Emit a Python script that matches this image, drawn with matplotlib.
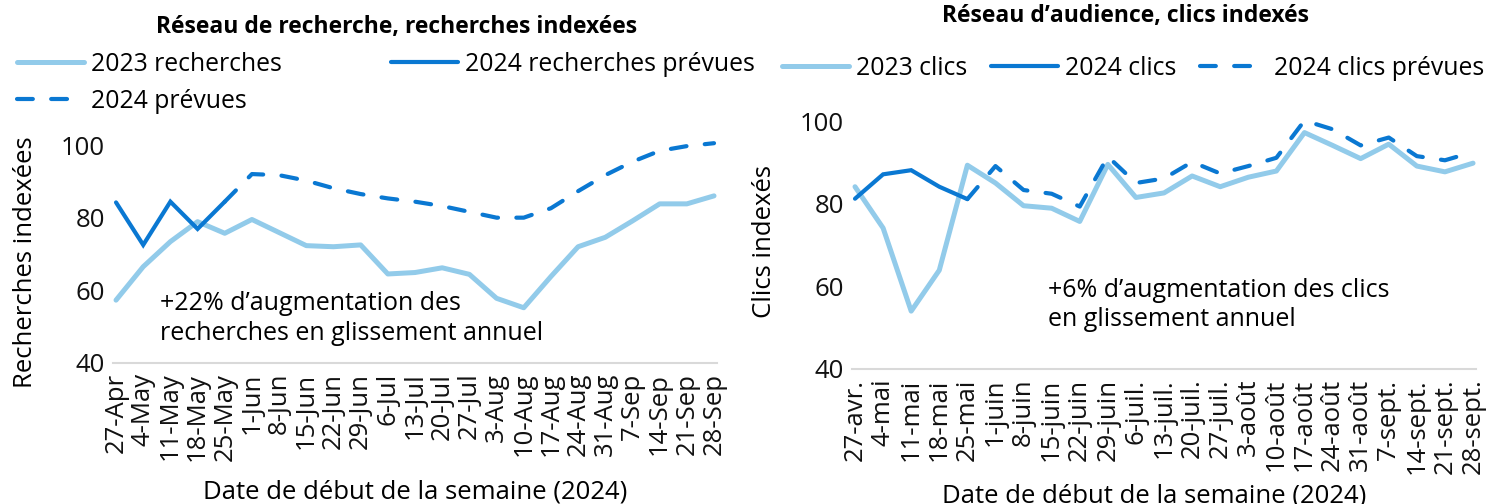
import matplotlib
matplotlib.use("Agg")
import matplotlib.pyplot as plt

plt.rcParams['font.family'] = ['Open Sans', 'DejaVu Sans']

# Données : réseau de recherche
semaines_rech = ['27-Apr', '4-May', '11-May', '18-May', '25-May', '1-Jun', '8-Jun',
                 '15-Jun', '22-Jun', '29-Jun', '6-Jul', '13-Jul', '20-Jul', '27-Jul',
                 '3-Aug', '10-Aug', '17-Aug', '24-Aug', '31-Aug', '7-Sep', '14-Sep',
                 '21-Sep', '28-Sep']
rech_2023 = [57.3, 66.5, 73.4, 78.9, 75.7, 79.5, 75.9, 72.3, 72.0, 72.5, 64.5, 64.9,
             66.2, 64.4, 57.8, 55.2, 63.8, 72.0, 74.6, 79.1, 83.8, 83.8, 86.0]
rech_2024 = [84.2, 72.5, 84.4, 76.9, 84.4] + [None] * 18
rech_prev = [None] * 4 + [84.4, 92.0, 91.7, 90.2, 88.1, 86.5, 85.3, 84.4, 83.2, 81.6,
                          80.0, 80.0, 82.6, 87.3, 91.7, 95.4, 98.4, 99.7, 100.5]

# Données : réseau d'audience
semaines_clics = ['27-avr.', '4-mai', '11-mai', '18-mai', '25-mai', '1-juin', '8-juin',
                  '15-juin', '22-juin', '29-juin', '6-juil.', '13-juil.', '20-juil.',
                  '27-juil.', '3-août', '10-août', '17-août', '24-août', '31-août',
                  '7-sept.', '14-sept.', '21-sept.', '28-sept.']
clics_2023 = [84.1, 74.1, 54.0, 63.9, 89.3, 85.0, 79.5, 78.9, 75.7, 89.5, 81.5, 82.6,
              86.7, 84.1, 86.4, 87.9, 97.2, 94.1, 90.9, 94.4, 89.1, 87.7, 89.8]
clics_2024 = [81.2, 87.1, 88.1, 84.1, 81.1] + [None] * 18
clics_prev = [None] * 4 + [81.1, 89.1, 83.3, 82.4, 79.3, 91.4, 85.0, 86.1, 90.1, 87.3,
                           89.1, 91.1, 100.1, 98.0, 94.1, 96.0, 91.5, 90.5, 92.5]

bleu_clair = '#92CBEA'
bleu_fonce = '#0A78D2'
fs = 18.5
fs_leg = 17.8

fig = plt.figure(figsize=(14.87, 5.04), dpi=100)
ax1 = fig.add_axes([0.0762, 0.2798, 0.4058, 0.4469])
ax2 = fig.add_axes([0.5731, 0.2679, 0.4194, 0.5084])


def tracer(ax, semaines, v2023, v2024, vprev, labels):
    x = list(range(len(semaines)))
    l1, = ax.plot(x, v2023, color=bleu_clair, lw=3.6, solid_capstyle='round', label=labels[0])
    l2, = ax.plot(x, [float('nan') if v is None else v for v in v2024], color=bleu_fonce,
                  lw=3.0, solid_capstyle='round', solid_joinstyle='miter', label=labels[1])
    l3, = ax.plot(x, [float('nan') if v is None else v for v in vprev], color=bleu_fonce,
                  lw=3.0, linestyle=(0, (3.8, 4.4)), dash_capstyle='round', label=labels[2])
    ax.set_xlim(-0.1, len(semaines) - 0.9)
    ax.set_ylim(40, 102)
    ax.set_yticks([40, 60, 80, 100])
    ax.set_xticks(x)
    ax.set_xticklabels(semaines, rotation=90, fontsize=fs)
    ax.tick_params(axis='both', length=0, labelsize=fs, colors='#111111')
    ax.tick_params(axis='x', pad=7)
    ax.tick_params(axis='y', pad=6)
    for s in ['top', 'right', 'left']:
        ax.spines[s].set_visible(False)
    ax.spines['bottom'].set_color('#D9D9D9')
    ax.spines['bottom'].set_linewidth(1.5)
    return l1, l2, l3


a1, a2, a3 = tracer(ax1, semaines_rech, rech_2023, rech_2024, rech_prev,
                    ['2023 recherches', '2024 recherches prévues', '2024 prévues'])
b1, b2, b3 = tracer(ax2, semaines_clics, clics_2023, clics_2024, clics_prev,
                    ['2023 clics', '2024 clics', '2024 clics prévues'])

# Titres
fig.text(0.267, 0.946, 'Réseau de recherche, recherches indexées', ha='center', va='center',
         fontsize=16.5, fontweight='bold')
fig.text(0.757, 0.968, 'Réseau d’audience, clics indexés', ha='center', va='center',
         fontsize=16.5, fontweight='bold')

# Légendes
fig.legend([a1, a3, a2], ['2023 recherches', '2024 prévues', '2024 recherches prévues'],
           ncol=2, loc='upper left', bbox_to_anchor=(0.0114, 0.897), frameon=False,
           fontsize=fs_leg, handlelength=2.7, handletextpad=0.3, columnspacing=4.4,
           labelspacing=0.48, borderaxespad=0, borderpad=0)
fig.legend([b1, b2, b3], ['2023 clics', '2024 clics', '2024 clics prévues'],
           ncol=3, loc='upper left', bbox_to_anchor=(0.526, 0.889), frameon=False,
           fontsize=fs_leg, handlelength=2.7, handletextpad=0.3, columnspacing=0.95,
           borderaxespad=0, borderpad=0)

# Titres des axes
fig.text(0.017, 0.48, 'Recherches indexées', rotation=90, ha='center', va='center', fontsize=fs)
fig.text(0.514, 0.52, 'Clics indexés', rotation=90, ha='center', va='center', fontsize=fs)
fig.text(0.279, 0.024, 'Date de début de la semaine (2024)', ha='center', va='center', fontsize=fs)
fig.text(0.776, 0.016, 'Date de début de la semaine (2024)', ha='center', va='center', fontsize=fs)

# Annotations
ax1.text(1.62, 52.2, '+22% d’augmentation des\nrecherches en glissement annuel',
         ha='left', va='center', fontsize=18, linespacing=1.25)
ax2.text(6.87, 55.5, '+6% d’augmentation des clics\nen glissement annuel',
         ha='left', va='center', fontsize=18, linespacing=1.25)

fig.savefig('out.png', dpi=100)
